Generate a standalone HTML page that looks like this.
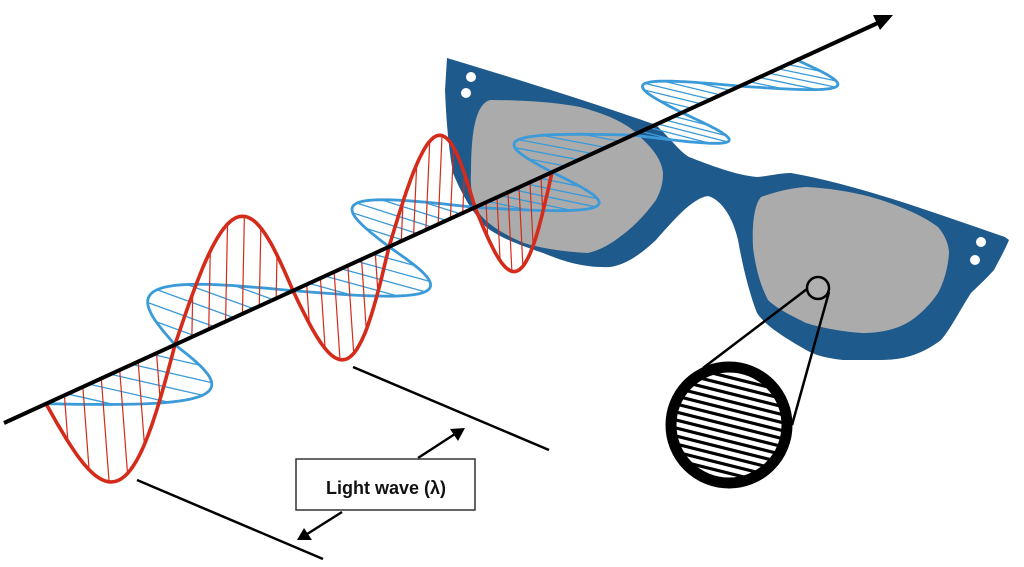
<!DOCTYPE html>
<html><head><meta charset="utf-8"><style>
html,body{margin:0;padding:0;background:#fff;}
svg{display:block;}
</style></head><body>
<svg id="s" width="1024" height="567" viewBox="0 0 1024 567" xmlns="http://www.w3.org/2000/svg">
<rect width="1024" height="567" fill="#fff"/>
<!-- glasses -->
<path d="M447,58 C520,80 600,105 656,125 C672,140 680,152 689,157 C710,165 735,175 757,177 C770,176 780,173 791,173 C860,185 940,215 1005,237 L1009,240 C1004,252 998,262 994,270 C985,280 976,288 971,293 C960,310 950,330 941,340 C920,356 900,360 881,360 L843,360 C825,358 815,355 806,350 C780,335 765,325 757,313 C748,290 742,262 738,240 C733,218 722,200 708,196 C692,198 672,222 656,240 C640,255 625,265 610,267 C585,268 565,262 543,253 C520,245 500,238 486,227 C470,210 460,190 453,173 C448,145 446,115 445,90 Z" fill="#1f5a8c"/>
<path d="M490,100 C520,100 555,102 580,107 C610,115 630,125 640,137 C655,150 662,162 663,173 C663,185 660,192 656,200 C645,215 635,225 625,233 C610,245 600,250 588,253 C565,252 540,248 524,243 C505,235 488,225 479,213 C472,200 470,185 471,173 C471,155 472,135 475,123 C478,110 483,102 490,100 Z" fill="#ababab"/>
<path d="M761,197 C775,192 790,188 806,187 C830,188 860,193 881,200 C905,208 925,217 938,227 C945,235 949,245 949,253 C948,268 944,282 938,293 C930,305 918,317 907,323 C895,330 878,333 862,333 C845,332 822,328 806,323 C790,315 776,308 768,300 C760,285 755,265 753,247 C752,225 754,205 761,197 Z" fill="#ababab"/>
<circle cx="471" cy="77" r="5" fill="#fff"/>
<circle cx="466" cy="93" r="5" fill="#fff"/>
<circle cx="981" cy="242" r="5" fill="#fff"/>
<circle cx="975" cy="260" r="5" fill="#fff"/>
<!-- magnifier -->
<circle cx="818" cy="288" r="11" fill="#b0b0b0" stroke="#000" stroke-width="2.5"/>
<line x1="807" y1="289" x2="703" y2="368" stroke="#000" stroke-width="2.5"/>
<line x1="829" y1="292" x2="792" y2="425" stroke="#000" stroke-width="2.5"/>
<defs><clipPath id="cc"><circle cx="729" cy="425" r="54"/></clipPath></defs>
<circle cx="729" cy="425" r="54" fill="#fff"/>
<g clip-path="url(#cc)" stroke="#000" stroke-width="3.2">
<line x1="660" y1="360" x2="800" y2="395"/>
<line x1="660" y1="368" x2="800" y2="403"/>
<line x1="660" y1="376" x2="800" y2="411"/>
<line x1="660" y1="384" x2="800" y2="419"/>
<line x1="660" y1="392" x2="800" y2="427"/>
<line x1="660" y1="400" x2="800" y2="435"/>
<line x1="660" y1="408" x2="800" y2="443"/>
<line x1="660" y1="416" x2="800" y2="451"/>
<line x1="660" y1="424" x2="800" y2="459"/>
<line x1="660" y1="432" x2="800" y2="467"/>
<line x1="660" y1="440" x2="800" y2="475"/>
<line x1="660" y1="448" x2="800" y2="483"/>
<line x1="660" y1="456" x2="800" y2="491"/>
<line x1="660" y1="464" x2="800" y2="499"/>
</g>
<circle cx="729" cy="425" r="58" fill="none" stroke="#000" stroke-width="11"/>
<g id="waves"></g>
<!-- axis -->
<line x1="4" y1="423" x2="880" y2="22" stroke="#000" stroke-width="4"/>
<polygon points="893,15 880,30 873,15" fill="#000"/>
<!-- wavelength markers -->
<line x1="137" y1="480" x2="323" y2="559" stroke="#000" stroke-width="2.5"/>
<line x1="353" y1="367" x2="549" y2="450" stroke="#000" stroke-width="2.5"/>
<line x1="418" y1="458" x2="458" y2="432" stroke="#000" stroke-width="2.4"/>
<polygon points="465,428 450,429 458,441" fill="#000"/>
<line x1="342" y1="512" x2="304" y2="536" stroke="#000" stroke-width="2.4"/>
<polygon points="297,540 304,528 312,540" fill="#000"/>
<rect x="296" y="459" width="179" height="51" fill="#fff" stroke="#333" stroke-width="1.5"/>
<text x="386" y="494" text-anchor="middle" font-family="Liberation Sans, sans-serif" font-weight="bold" font-size="18" fill="#111">Light wave (λ)</text>
</svg>
<script>
(function(){
var ns="http://www.w3.org/2000/svg";
var g=document.getElementById("waves");
function ay(x){return 423-0.4577*(x-4);}
function mk(tag,attrs){var e=document.createElementNS(ns,tag);for(var k in attrs)e.setAttribute(k,attrs[k]);g.appendChild(e);return e;}
function wave(nodes,D,color,w,hw,nh){
  var pts=[];
  for(var i=0;i<nodes.length-1;i++){
    var a=nodes[i],b=nodes[i+1],d=D[i];
    for(var j=1;j<nh;j++){
      var s=j/nh,x=a+(b-a)*s,y=ay(x),k=Math.sin(Math.PI*s);
      mk("line",{x1:x,y1:y,x2:x+k*d[0],y2:y+k*d[1],stroke:color,"stroke-width":hw});
    }
    for(var j=0;j<=40;j++){
      var s=j/40,x=a+(b-a)*s,y=ay(x),k=Math.sin(Math.PI*s);
      pts.push((x+k*d[0]).toFixed(1)+","+(y+k*d[1]).toFixed(1));
    }
  }
  mk("polyline",{points:pts.join(" "),fill:"none",stroke:color,"stroke-width":w,"stroke-linejoin":"round"});
}
wave([46,175,293,389,475,552,633,682,740,797],
 [[92,21],[-77,-28],[84,23],[-75,-24],[82,17],[-74,-14],[70,18],[-66,-16],[67,14]],
 "#3b9ad8",2.8,1.3,6);
wave([46,175,293,389,475,552],
 [[8,106],[2,-100],[6,90],[4,-91],[4,81]],
 "#d42b1a",3.6,1.2,7);
})();
</script>
</body></html>
